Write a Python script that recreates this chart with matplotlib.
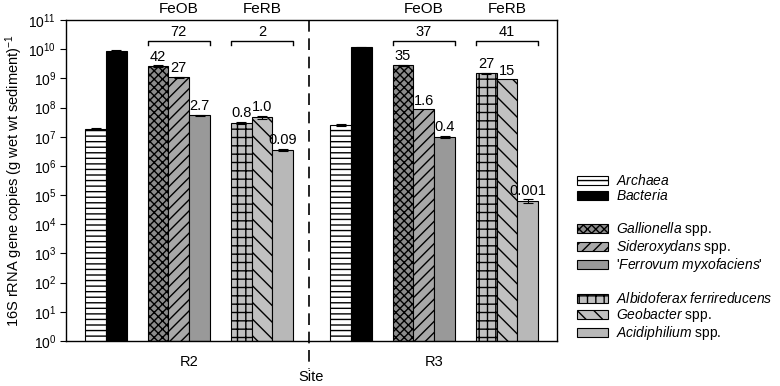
import numpy as np
import matplotlib
matplotlib.use('Agg')
import matplotlib.pyplot as plt
from matplotlib.patches import Patch

plt.rcParams['font.family'] = ['Liberation Sans', 'DejaVu Sans']
plt.rcParams['mathtext.fontset'] = 'custom'
plt.rcParams['mathtext.rm'] = 'Liberation Sans'
plt.rcParams['mathtext.it'] = 'Liberation Sans:italic'
plt.rcParams['hatch.linewidth'] = 1.0

# data
sites = ['R2', 'R3']
taxa = ['Archaea', 'Bacteria', 'Gallionella', 'Sideroxydans', 'Ferrovum',
        'Albidoferax', 'Geobacter', 'Acidiphilium']
r2_vals = [1.9e7, 8.7e9, 2.6e9, 1.08e9, 5.5e7, 2.95e7, 4.6e7, 3.5e6]
r2_err = [0.6e6, 0.7e9, 0.2e9, 0.07e9, 2e6, 2.5e6, 6e6, 3e5]
r3_vals = [2.5e7, 1.16e10, 2.85e9, 8.7e7, 1.0e7, 1.49e9, 9.2e8, 6.3e4]
r3_err = [1.5e6, 0.4e9, 0.1e9, 0, 0.7e6, 0.1e9, 0, 0.9e4]
r2_pct = [None, None, '42', '27', '2.7', '0.8', '1.0', '0.09']
r3_pct = [None, None, '35', '1.6', '0.4', '27', '15', '0.001']
r2_group = ['72', '2']
r3_group = ['37', '41']
groups = ['FeOB', 'FeRB']
legend_labels = ['$\\mathit{Archaea}$', '$\\mathit{Bacteria}$', None,
                 '$\\mathit{Gallionella}$ spp.', '$\\mathit{Sideroxydans}$ spp.',
                 "'$\\mathit{Ferrovum\\ myxofaciens}$'", None,
                 '$\\mathit{Albidoferax\\ ferrireducens}$', '$\\mathit{Geobacter}$ spp.',
                 '$\\mathit{Acidiphilium}$ spp.']

faces = ['white', 'black', '#8c8c8c', '#a8a8a8', '#999999', '#c0c0c0', '#c0c0c0', '#b8b8b8']
hatches = ['---', None, 'xxxx', '///', None, '++', '\\\\', None]
slot = [0, 1, 3, 4, 5, 7, 8, 9]
offsets = [0, 11.78]

fig = plt.figure(figsize=(7.8, 3.86), dpi=100)
ax = fig.add_axes([0.0846, 0.1166, 0.629, 0.8314])

handles = []
for si, (vals, errs, pcts, grp) in enumerate([(r2_vals, r2_err, r2_pct, r2_group),
                                               (r3_vals, r3_err, r3_pct, r3_group)]):
    xs = np.array(slot) + offsets[si]
    for i in range(len(taxa)):
        b = ax.bar(xs[i], vals[i], width=1.0, bottom=1, color=faces[i], edgecolor='black',
                   linewidth=0.8, hatch=hatches[i], zorder=2)
        if si == 0:
            handles.append(b[0])
        if errs[i] > 0:
            ax.errorbar(xs[i], vals[i], yerr=errs[i], color='black', capsize=3.5,
                        elinewidth=0.8, capthick=0.8, fmt='none', zorder=3)
        if pcts[i] is not None:
            ax.text(xs[i], (vals[i] + errs[i]) * 1.15, pcts[i], ha='center', va='bottom',
                    fontsize=10.5)
    # brackets over FeOB / FeRB
    for gi, (a, bb) in enumerate([(2, 4), (5, 7)]):
        x0 = xs[a] - 0.5
        x1 = xs[bb] + 0.5
        ax.plot([x0, x0, x1, x1], [1.4e10, 1.9e10, 1.9e10, 1.4e10], color='black',
                linewidth=1.0, clip_on=False)
        ax.text((x0 + x1) / 2, 2.3e10, grp[gi], ha='center', va='bottom', fontsize=10.5)
        ax.text((x0 + x1) / 2, 1.35e11, groups[gi], ha='center', va='bottom', fontsize=11,
                clip_on=False)

ax.set_yscale('log')
ax.set_ylim(1, 1e11)
ax.set_xlim(-1.42, 22.17)
ax.set_yticks([10.0 ** k for k in range(12)])
ax.minorticks_off()
ax.tick_params(axis='y', direction='out', length=4, labelsize=10, pad=3)
ax.set_xticks([4.5, 4.5 + offsets[1]])
ax.set_xticklabels(sites, fontsize=10.5)
ax.tick_params(axis='x', length=0, pad=10)
ax.set_ylabel('16S rRNA gene copies (g wet wt sediment)$^{-1}$', fontsize=10.5, labelpad=2)
for s in ax.spines.values():
    s.set_linewidth(1.0)
fig.text(0.3985, 0.024, 'Site', ha='center', va='center', fontsize=10.5)

# dashed divider between sites, running below the axis
ax.plot([10.25, 10.25], [1e11, 10 ** -0.95], color='black', linewidth=1.2,
        linestyle=(0, (7, 4)), clip_on=False, zorder=1)

leg_handles = []
leg_labels = []
blank_rows = []
hi = 0
for k, lab in enumerate(legend_labels):
    if lab is None:
        leg_handles.append(Patch(facecolor='none', edgecolor='none'))
        leg_labels.append('$\\mathit{Ag}$')
        blank_rows.append(k)
    else:
        leg_handles.append(handles[hi])
        leg_labels.append(lab)
        hi += 1
leg = fig.legend(leg_handles, leg_labels, loc='upper left', bbox_to_anchor=(0.732, 0.565),
                 frameon=False, fontsize=10, handlelength=2.3, handleheight=0.55,
                 labelspacing=0.0, handletextpad=0.55, borderaxespad=0)
for k in blank_rows:
    leg.get_texts()[k].set_color('none')

fig.savefig('out.png', dpi=100)
